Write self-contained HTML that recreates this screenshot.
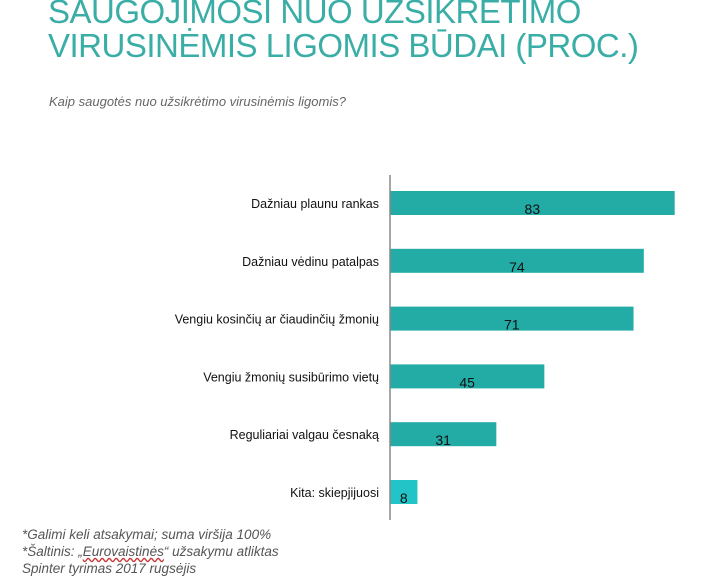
<!DOCTYPE html>
<html><head><meta charset="utf-8"><style>
body{margin:0;width:720px;height:575px;background:#fff;overflow:hidden;position:relative;font-family:"Liberation Sans",sans-serif}
.t{position:absolute;left:48px;color:#3aaea6;font-size:33px;font-family:"Liberation Sans Narrow","Liberation Sans",sans-serif;letter-spacing:-0.5px;white-space:nowrap}
.sub{position:absolute;left:49px;top:94px;font-style:italic;color:#666;font-size:13px}
.foot{position:absolute;left:22px;font-style:italic;color:#555;font-size:13.5px;white-space:nowrap}
</style></head><body>
<div class="t" style="top:-7px">SAUGOJIMOSI NUO UŽSIKRĖTIMO</div>
<div class="t" style="top:27px">VIRUSINĖMIS LIGOMIS BŪDAI (PROC.)</div>
<div class="sub">Kaip saugotės nuo užsikrėtimo virusinėmis ligomis?</div>
<svg id="c" width="720" height="575" style="position:absolute;left:0;top:0"></svg>
<div class="foot" style="top:527px">*Galimi keli atsakymai; suma viršija 100%</div>
<div class="foot" style="top:544px">*Šaltinis: „<span style="text-decoration:underline wavy #c33">Eurovaistinės</span>“ užsakymu atliktas</div>
<div class="foot" style="top:561px">Spinter tyrimas 2017 rugsėjis</div>
<script>
const categories=["Dažniau plaunu rankas","Dažniau vėdinu patalpas","Vengiu kosinčių ar čiaudinčių žmonių","Vengiu žmonių susibūrimo vietų","Reguliariai valgau česnaką","Kita: skiepjijuosi"];
const values=[83,74,71,45,31,8];
const svg=document.getElementById('c');const NS='http://www.w3.org/2000/svg';
const x0=390,scale=3.43,y0=203,step=57.8,bh=24;
const xs=v=>x0+v*scale, ys=i=>y0+i*step;
function mk(t,a){const e=document.createElementNS(NS,t);for(const k in a)e.setAttribute(k,a[k]);svg.appendChild(e);return e;}
categories.forEach((c,i)=>{
const r=mk('rect',{x:x0,y:ys(i)-bh/2,width:xs(values[i])-x0,height:bh,fill:i==5?'#23c4c8':'#23aca5'});


const l=mk('text',{x:379,y:ys(i)+5,'text-anchor':'end','font-size':'12.5',fill:'#111'});l.textContent=c;


const v=mk('text',{x:(x0+xs(values[i]))/2,y:ys(i)+11,'text-anchor':'middle','font-size':'14',fill:'#111'});v.textContent=values[i];


});
const ax=mk('line',{x1:x0,y1:ys(0)-28,x2:x0,y2:ys(5)+28,stroke:'#888','stroke-width':1.5});


</script>
</body></html>
